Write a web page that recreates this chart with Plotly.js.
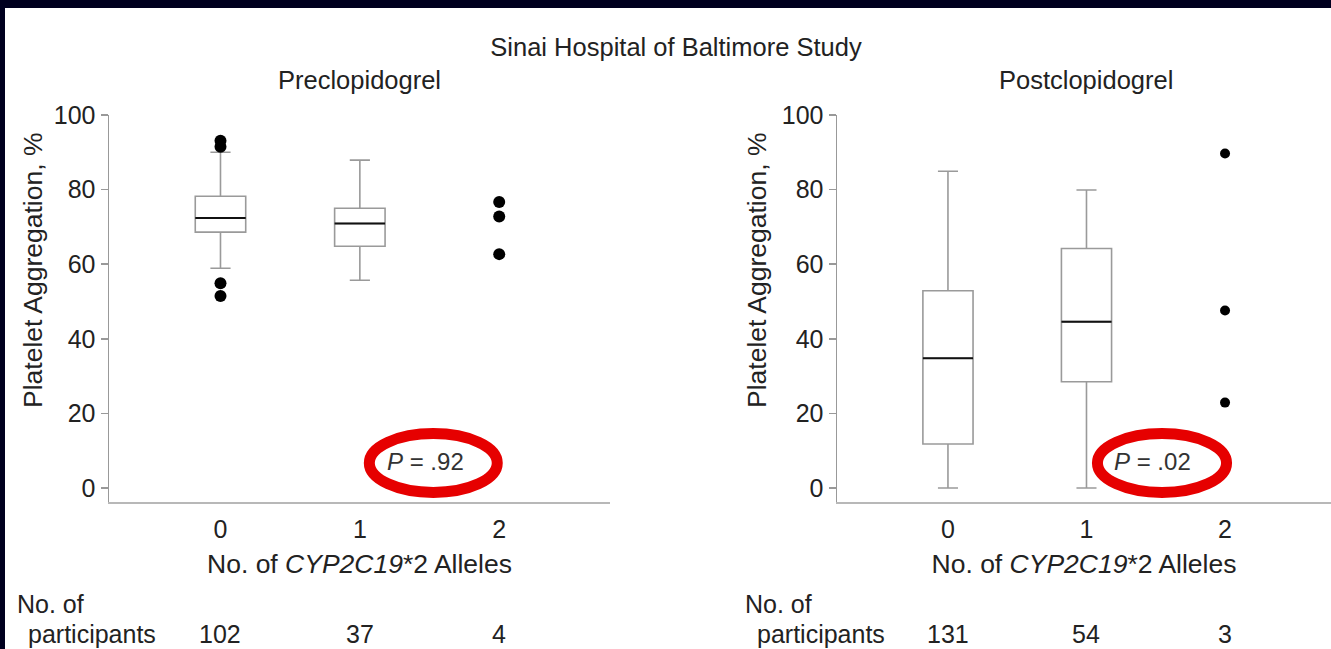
<!DOCTYPE html>
<html>
<head>
<meta charset="utf-8">
<script src="https://cdn.plot.ly/plotly-3.0.1.min.js"></script>
<style>
html,body{margin:0;padding:0;background:#fff;overflow:hidden;}
#chart{width:1331px;height:649px;}
</style>
</head>
<body>
<div id="chart"></div>
<script>
// ---- data ----
var categories = [0, 1, 2];
var tickLabels = ['0', '1', '2'];

// Preclopidogrel box statistics (genotype 0 and 1)
var preX = [0, 1];
var preQ1 = [68.6, 64.8];
var preMedian = [72.4, 70.9];
var preQ3 = [78.2, 75.0];
var preLower = [58.9, 55.7];
var preUpper = [90.0, 87.9];
var preOutX = [0, 0, 0, 0];
var preOutY = [93.1, 91.5, 54.9, 51.5];
var pre2X = [2, 2, 2];
var pre2Y = [76.7, 72.8, 62.7];

// Postclopidogrel box statistics (genotype 0 and 1)
var postX = [0, 1];
var postQ1 = [11.8, 28.5];
var postMedian = [34.8, 44.6];
var postQ3 = [52.9, 64.2];
var postLower = [0, 0];
var postUpper = [84.9, 79.9];
var post2X = [2, 2, 2];
var post2Y = [89.7, 47.6, 22.9];

var nPre = [102, 37, 4];
var nPost = [131, 54, 3];
var pPre = '.92';
var pPost = '.02';

// ---- styling ----
var FONT = 'Liberation Sans, Arial, Helvetica, sans-serif';
var TXT = '#222222';
var BOXW = 0.362;
var W = 1331, H = 649;
function px(x){return x / W;}
function py(y){return 1 - y / H;}

function medianSegments(xs, ms){
  var x = [], y = [];
  for (var i = 0; i < xs.length; i++){
    x.push(xs[i] - BOXW/2, xs[i] + BOXW/2, null);
    y.push(ms[i], ms[i], null);
  }
  return {x: x, y: y};
}

var boxStyle = {
  type: 'box', boxpoints: false, width: BOXW, whiskerwidth: 0.4,
  line: {color: '#9a9a9a', width: 1.6}, fillcolor: '#ffffff',
  hoverinfo: 'skip', showlegend: false
};

var medPre = medianSegments(preX, preMedian);
var medPost = medianSegments(postX, postMedian);

var traces = [
  Object.assign({}, boxStyle, {x: preX, q1: preQ1, median: preMedian, q3: preQ3,
    lowerfence: preLower, upperfence: preUpper, xaxis: 'x', yaxis: 'y'}),
  {type: 'scatter', mode: 'lines', x: medPre.x, y: medPre.y, xaxis: 'x', yaxis: 'y',
    line: {color: '#111', width: 2}, showlegend: false, hoverinfo: 'skip'},
  {type: 'scatter', mode: 'markers', x: preOutX, y: preOutY, xaxis: 'x', yaxis: 'y',
    marker: {color: '#000', size: 12}, showlegend: false},
  {type: 'scatter', mode: 'markers', x: pre2X, y: pre2Y, xaxis: 'x', yaxis: 'y',
    marker: {color: '#000', size: 12}, showlegend: false},

  Object.assign({}, boxStyle, {x: postX, q1: postQ1, median: postMedian, q3: postQ3,
    lowerfence: postLower, upperfence: postUpper, xaxis: 'x2', yaxis: 'y2'}),
  {type: 'scatter', mode: 'lines', x: medPost.x, y: medPost.y, xaxis: 'x2', yaxis: 'y2',
    line: {color: '#111', width: 2}, showlegend: false, hoverinfo: 'skip'},
  {type: 'scatter', mode: 'markers', x: post2X, y: post2Y, xaxis: 'x2', yaxis: 'y2',
    marker: {color: '#000', size: 10}, showlegend: false}
];

function xAxis(domain, range){
  return {
    domain: domain, range: range, tickvals: categories, ticktext: tickLabels,
    ticks: '', showline: true, linecolor: '#b8b8b8', linewidth: 2,
    showgrid: false, zeroline: false, fixedrange: true,
    tickfont: {family: FONT, size: 25, color: TXT}, ticklabelstandoff: 4,
    title: {text: 'No. of <i>CYP2C19</i>*2 Alleles', standoff: 12,
      font: {family: FONT, size: 26.5, color: TXT}}
  };
}
function yAxis(anchor){
  return {
    anchor: anchor, domain: [py(502), py(115)], range: [-3.75, 100],
    tickvals: [0, 20, 40, 60, 80, 100], ticks: 'outside', ticklen: 7,
    tickcolor: '#999', tickwidth: 1.5, showline: true, linecolor: '#999',
    linewidth: 1.5, showgrid: false, zeroline: false, fixedrange: true,
    tickfont: {family: FONT, size: 25, color: TXT}
  };
}

var annFont = {family: FONT, size: 25, color: TXT};
var annotations = [
  {xref: 'x', yref: 'paper', x: 1, y: py(80), text: 'Preclopidogrel', showarrow: false,
    font: {family: FONT, size: 25.5, color: TXT}, xanchor: 'center', yanchor: 'middle'},
  {xref: 'x2', yref: 'paper', x: 1, y: py(80), text: 'Postclopidogrel', showarrow: false,
    font: {family: FONT, size: 25.5, color: TXT}, xanchor: 'center', yanchor: 'middle'},
  {xref: 'paper', yref: 'paper', x: px(33), y: py(270), text: 'Platelet Aggregation, %', textangle: -90,
    showarrow: false, xanchor: 'center', yanchor: 'middle', font: {family: FONT, size: 26.5, color: TXT}},
  {xref: 'paper', yref: 'paper', x: px(757), y: py(270), text: 'Platelet Aggregation, %', textangle: -90,
    showarrow: false, xanchor: 'center', yanchor: 'middle', font: {family: FONT, size: 26.5, color: TXT}},
  {xref: 'x', yref: 'y', x: 1.47, y: 7, text: '<i>P</i> = ' + pPre, showarrow: false,
    xanchor: 'center', yanchor: 'middle', font: {family: FONT, size: 24, color: '#333'}},
  {xref: 'x2', yref: 'y2', x: 1.48, y: 7, text: '<i>P</i> = ' + pPost, showarrow: false,
    xanchor: 'center', yanchor: 'middle', font: {family: FONT, size: 24, color: '#333'}},
  {xref: 'paper', yref: 'paper', x: px(15), y: py(604), xanchor: 'left', yanchor: 'middle', text: 'No. of', showarrow: false, font: annFont},
  {xref: 'paper', yref: 'paper', x: px(26), y: py(634), xanchor: 'left', yanchor: 'middle', text: 'participants', showarrow: false, font: annFont},
  {xref: 'paper', yref: 'paper', x: px(743), y: py(604), xanchor: 'left', yanchor: 'middle', text: 'No. of', showarrow: false, font: annFont},
  {xref: 'paper', yref: 'paper', x: px(755), y: py(634), xanchor: 'left', yanchor: 'middle', text: 'participants', showarrow: false, font: annFont}
];
categories.forEach(function(c, i){
  annotations.push({xref: 'x', yref: 'paper', x: c, y: py(634), xanchor: 'center', yanchor: 'middle',
    text: String(nPre[i]), showarrow: false, font: annFont});
  annotations.push({xref: 'x2', yref: 'paper', x: c, y: py(634), xanchor: 'center', yanchor: 'middle',
    text: String(nPost[i]), showarrow: false, font: annFont});
});

var shapes = [
  {type: 'rect', xref: 'paper', yref: 'paper', x0: 0, x1: 1, y0: py(8), y1: 1, fillcolor: '#00001f', line: {width: 0}, layer: 'above'},
  {type: 'rect', xref: 'paper', yref: 'paper', x0: 0, x1: px(5), y0: 0, y1: 1, fillcolor: '#00001f', line: {width: 0}, layer: 'above'},
  {type: 'circle', xref: 'x', yref: 'y', x0: 1.068, x1: 1.986, y0: -1.2, y1: 14.6, line: {color: '#e60000', width: 11}, layer: 'above'},
  {type: 'circle', xref: 'x2', yref: 'y2', x0: 1.079, x1: 2.011, y0: -1.2, y1: 14.6, line: {color: '#e60000', width: 11}, layer: 'above'}
];

var layout = {
  width: W, height: H, margin: {l: 0, r: 0, t: 0, b: 0},
  paper_bgcolor: '#ffffff', plot_bgcolor: 'rgba(0,0,0,0)',
  showlegend: false,
  title: {text: 'Sinai Hospital of Baltimore Study', x: px(676), y: py(47), xanchor: 'center', yanchor: 'middle',
    font: {family: FONT, size: 25.5, color: TXT}},
  xaxis: Object.assign(xAxis([px(109), px(610)], [-0.8, 2.795]), {anchor: 'y'}),
  yaxis: yAxis('x'),
  xaxis2: Object.assign(xAxis([px(837), 1], [-0.801, 2.765]), {anchor: 'y2'}),
  yaxis2: yAxis('x2'),
  annotations: annotations,
  shapes: shapes
};

Plotly.newPlot('chart', traces, layout, {staticPlot: true, displayModeBar: false});
</script>
</body>
</html>
